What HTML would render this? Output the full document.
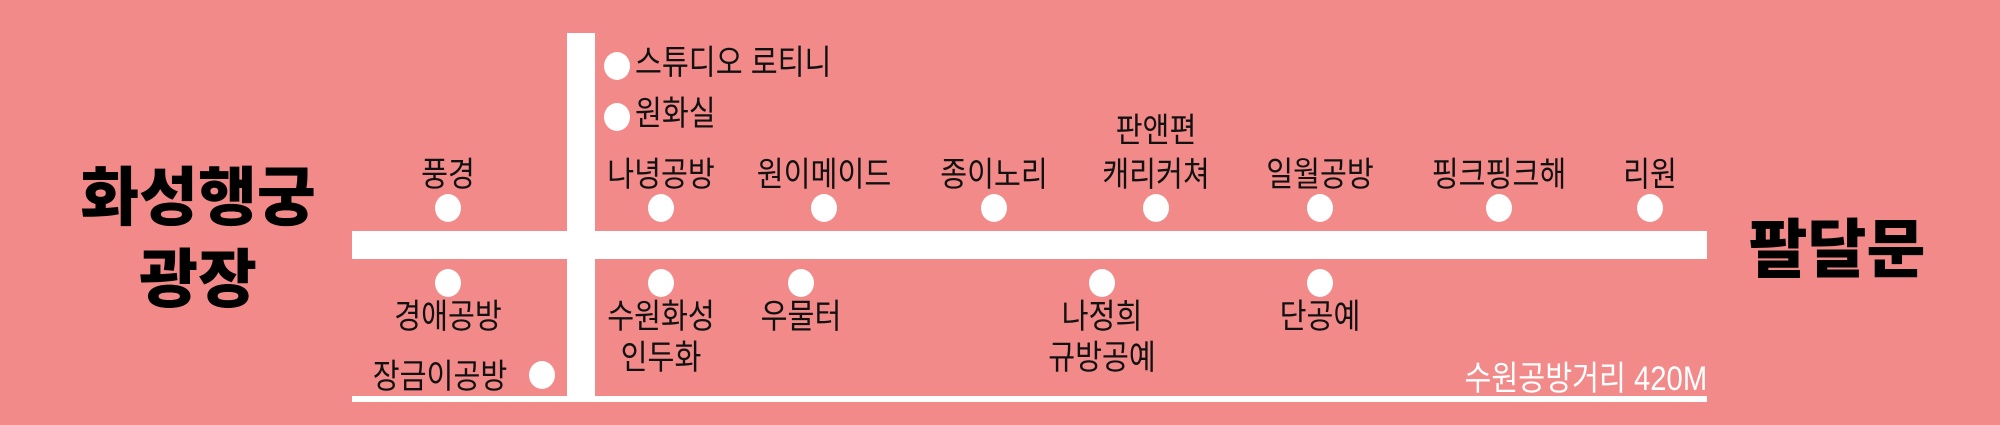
<!DOCTYPE html>
<html><head><meta charset="utf-8"><style>
body{margin:0;width:2000px;height:425px;overflow:hidden;background:#F28A8A;position:relative;font-family:"Liberation Sans","Noto Sans CJK KR",sans-serif;}
div{position:absolute;}
.bar{background:#fff;}
.dot{width:26px;height:28px;border-radius:50%;background:#fff;transform:translate(-50%,-50%);}
.l{font-size:34px;color:#111;white-space:nowrap;transform:translate(-50%,-50%) scaleX(0.86);line-height:1;}
.ll{font-size:34px;color:#111;white-space:nowrap;transform:translate(0,-50%) scaleX(0.86);transform-origin:left center;line-height:1;}
.t{font-size:64px;font-weight:900;color:#000;white-space:nowrap;transform:translate(-50%,-50%);line-height:1;}
</style></head><body>
<div class="bar" style="left:567px;top:33px;width:28px;height:369px"></div>
<div class="bar" style="left:352px;top:231px;width:1355px;height:28px"></div>
<div class="bar" style="left:352px;top:396px;width:1355px;height:6px"></div>

<div class="t" style="left:198px;top:198px">화성행궁</div>
<div class="t" style="left:198px;top:280px">광장</div>
<div class="t" style="left:1837px;top:250px">팔달문</div>

<div class="dot" style="left:617px;top:66px"></div>
<div class="ll" style="left:635px;top:63px">스튜디오 로티니</div>
<div class="dot" style="left:617px;top:117px"></div>
<div class="ll" style="left:635px;top:114px">원화실</div>

<div class="l" style="left:448px;top:175px">풍경</div><div class="dot" style="left:448px;top:208px"></div>
<div class="l" style="left:661px;top:175px">나녕공방</div><div class="dot" style="left:661px;top:208px"></div>
<div class="l" style="left:824px;top:175px">원이메이드</div><div class="dot" style="left:824px;top:208px"></div>
<div class="l" style="left:994px;top:175px">종이노리</div><div class="dot" style="left:994px;top:208px"></div>
<div class="l" style="left:1156px;top:131px">판앤편</div>
<div class="l" style="left:1156px;top:175px">캐리커쳐</div><div class="dot" style="left:1156px;top:208px"></div>
<div class="l" style="left:1320px;top:175px">일월공방</div><div class="dot" style="left:1320px;top:208px"></div>
<div class="l" style="left:1499px;top:175px">핑크핑크해</div><div class="dot" style="left:1499px;top:208px"></div>
<div class="l" style="left:1650px;top:175px">리원</div><div class="dot" style="left:1650px;top:208px"></div>

<div class="dot" style="left:448px;top:283px"></div><div class="l" style="left:448px;top:317px">경애공방</div>
<div class="dot" style="left:661px;top:283px"></div><div class="l" style="left:661px;top:317px">수원화성</div><div class="l" style="left:661px;top:358px">인두화</div>
<div class="dot" style="left:801px;top:283px"></div><div class="l" style="left:801px;top:317px">우물터</div>
<div class="dot" style="left:1102px;top:283px"></div><div class="l" style="left:1102px;top:317px">나정희</div><div class="l" style="left:1102px;top:358px">규방공예</div>
<div class="dot" style="left:1320px;top:283px"></div><div class="l" style="left:1320px;top:317px">단공예</div>
<div class="l" style="left:440px;top:377px">장금이공방</div><div class="dot" style="left:542px;top:375px"></div>

<div style="right:293px;top:362px;font-size:34px;color:#fff;white-space:nowrap;line-height:1;transform:scaleX(0.86);transform-origin:right center">수원공방거리 420M</div>
</body></html>
